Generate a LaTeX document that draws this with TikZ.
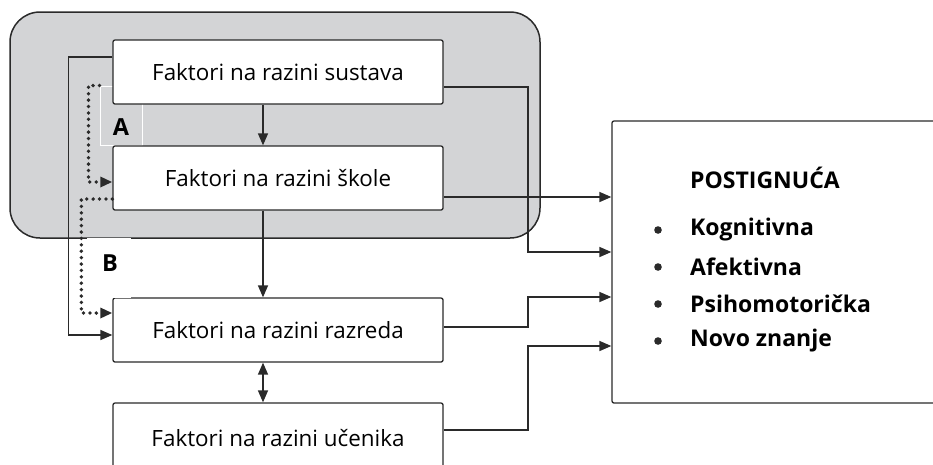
\documentclass[tikz,border=0pt]{standalone}
\usepackage{fontspec}
\setmainfont{Open Sans}
\usetikzlibrary{arrows.meta,calc}
\definecolor{ink}{HTML}{2A2A2A}
\definecolor{panel}{HTML}{D3D4D6}
\tikzset{
  factor/.style={draw=ink, line width=1.3pt, fill=white, rounded corners=2pt,
    minimum width=330pt, minimum height=64pt, inner sep=0pt,
    font=\fontsize{22.4}{26}\selectfont},
  tip/.style={-{Triangle[length=12pt,width=10pt]}},
  link/.style={draw=ink, line width=1.5pt, tip},
  dotlink/.style={draw=ink, line width=3.8pt, line cap=round,
    dash pattern=on 0pt off 6.4pt, tip},
  tag/.style={draw=white, line width=1pt, inner sep=0pt},
  letter/.style={inner sep=0pt, font=\bfseries\fontsize{23.5}{26}\selectfont},
  item/.style={anchor=west, inner sep=0pt, font=\bfseries\fontsize{23}{26}\selectfont},
}
\begin{document}
\begin{tikzpicture}[x=1pt,y=-1pt]
\useasboundingbox (0,0) rectangle (933,464);

% shaded group for system and school levels
\node[draw=ink, line width=1.5pt, fill=panel, rounded corners=30pt,
  minimum width=530pt, minimum height=226pt, inner sep=0pt] (grp) at (275,125) {};

% label frame A
\node[tag, minimum width=42pt, minimum height=59pt] (la) at (121,115.5) {};
\node[letter] (ta) at (121,127) {A};

% factor boxes
\node[factor] (sus) at (278,72)  {Faktori na razini sustava};
\node[factor] (sko) at (278,178) {Faktori na razini škole};
\node[factor] (raz) at (278,330) {Faktori na razini razreda};
\node[factor, minimum height=70pt] (uce) at (278,438) {Faktori na razini učenika};

% achievements box
\node[draw=ink, line width=1.3pt, rounded corners=2pt, minimum width=333pt,
  minimum height=282pt, inner sep=0pt] (pos) at (778.5,262) {};
\node[item] (ph) at (690,178) {POSTIGNUĆA};
\foreach \t/\yy/\nm in {Kognitivna/230/k1, Afektivna/267/k2, Psihomotorička/304/k3, Novo znanje/341/k4}{
  \node[item] (\nm) at (690,\yy) {\t};
  \fill[ink] (658,\yy) circle (3.8pt);
}

% label frame B
\node[tag, minimum width=43pt, minimum height=59pt] (lb) at (108.5,267.5) {};
\node[letter] (tb) at (110,263) {B};

% vertical links between levels
\draw[link] ([xshift=-15pt]sus.south) -- ([xshift=-15pt]sko.north);
\draw[link] ([xshift=-15pt]sko.south) -- ([xshift=-15pt]raz.north);
\draw[draw=ink, line width=1.5pt, {Triangle[length=12pt,width=10pt]}-{Triangle[length=12pt,width=10pt]}]
  ([xshift=-15pt]raz.south) -- ([xshift=-15pt]uce.north);

% system level straight to class level
\draw[link] ([yshift=15pt]sus.west) -- ++(-44,0) |- ([yshift=-5pt]raz.west);

% dotted paths A and B
\draw[dotlink] (la.north west) -- ++(-11,0) |- ([yshift=-4pt]sko.west);
\draw[dotlink] ([yshift=-21pt]sko.west) -- ++(-31,0) |- ([yshift=17pt]raz.west);

% links into achievements
\draw[link] ([yshift=-15pt]sus.east) -- (528,87) |- ([yshift=10pt]pos.west);
\draw[link] ([yshift=-19pt]sko.east) -- ([yshift=65pt]pos.west);
\draw[link] ([yshift=3pt]raz.east) -- (528,327) |- ([yshift=-35pt]pos.west);
\draw[link] ([yshift=8pt]uce.east) -- (528,430) |- ([yshift=-84pt]pos.west);
\end{tikzpicture}
\end{document}
